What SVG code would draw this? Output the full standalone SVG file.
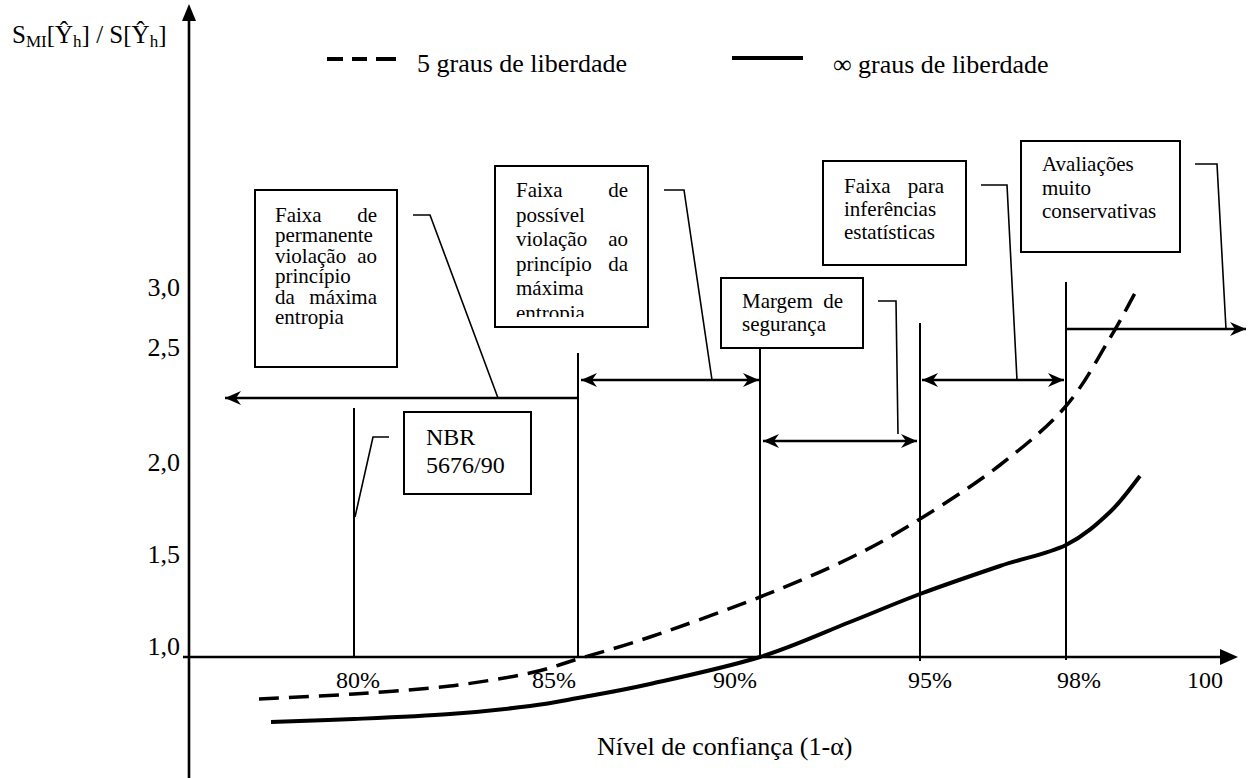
<svg xmlns="http://www.w3.org/2000/svg" width="1248" height="778" viewBox="0 0 1248 778" font-family="'Liberation Serif', 'Times New Roman', serif">
<style>
text{font-family:"Liberation Serif","Times New Roman",serif;fill:#000}
.bx{font-size:21px}
.ax{font-size:26px}
.pc{font-size:24px}
.box{fill:#fff;stroke:#000;stroke-width:2}
.ld{fill:none;stroke:#000;stroke-width:1.6}
.vl{fill:none;stroke:#000;stroke-width:2}
.ar{fill:none;stroke:#000;stroke-width:2.5}
.axis{fill:none;stroke:#000;stroke-width:2.6}
</style>
<defs>
<marker id="ah" viewBox="-17 -9 18 18" refX="0" refY="0" markerWidth="18" markerHeight="18" markerUnits="userSpaceOnUse" orient="auto-start-reverse">
<path d="M0,0 L-16,-7 L-11,0 L-16,7 Z" fill="#000"/>
</marker>
<clipPath id="clip2"><rect x="495" y="166" width="153" height="151"/></clipPath>
</defs>
<rect width="1248" height="778" fill="#fff"/>

<g id="axes">
<line class="axis" x1="189" y1="778" x2="189" y2="16"/>
<polygon points="189,4 182,21 196,21" fill="#000"/>
<line class="axis" x1="183" y1="657" x2="1224" y2="657"/>
<polygon points="1238,657 1220,649 1220,665" fill="#000"/>
</g>

<g id="axis-labels">
<text x="12" y="43" style="font-size:25px">S<tspan style="font-size:17px" dy="4">MI</tspan><tspan dy="-4">[Ŷ</tspan><tspan style="font-size:17px" dy="4">h</tspan><tspan dy="-4">] / S[Ŷ</tspan><tspan style="font-size:17px" dy="4">h</tspan><tspan dy="-4">]</tspan></text>
<text class="ax" x="180" y="296" text-anchor="end">3,0</text>
<text class="ax" x="180" y="356" text-anchor="end">2,5</text>
<text class="ax" x="180" y="471" text-anchor="end">2,0</text>
<text class="ax" x="180" y="563" text-anchor="end">1,5</text>
<text class="ax" x="180" y="655" text-anchor="end">1,0</text>
<text class="pc" x="336" y="688">80%</text>
<text class="pc" x="532" y="688">85%</text>
<text class="pc" x="713" y="688">90%</text>
<text class="pc" x="908" y="688">95%</text>
<text class="pc" x="1057" y="688">98%</text>
<text class="pc" x="1187" y="688">100</text>
<text class="ax" x="597" y="755">Nível de confiança (1-α)</text>
</g>

<g id="legend">
<line x1="327" y1="59" x2="343" y2="59" stroke="#000" stroke-width="4"/>
<line x1="352" y1="59" x2="367" y2="59" stroke="#000" stroke-width="4"/>
<line x1="376" y1="59" x2="396" y2="59" stroke="#000" stroke-width="4"/>
<text class="ax" x="417" y="72">5 graus de liberdade</text>
<line x1="732" y1="58" x2="803" y2="58" stroke="#000" stroke-width="4"/>
<text class="ax" x="833" y="73">∞ graus de liberdade</text>
</g>

<g id="curves">
<path id="curve-5gl" fill="none" stroke="#000" stroke-width="3.5" stroke-dasharray="20 10" d="M259,699 C274.8,698.2 322.2,696.2 354,694 C385.8,691.8 420.7,689.5 450,686 C479.3,682.5 508.7,677.5 530,673 C551.3,668.5 558,665 578,659 C598,653 619.7,647.3 650,637 C680.3,626.7 726.7,610.2 760,597 C793.3,583.8 823.3,571 850,558 C876.7,545 895,534.5 920,519 C945,503.5 975.7,483.8 1000,465 C1024.3,446.2 1047.7,427.2 1066,406 C1084.3,384.8 1098.5,356.8 1110,338 C1121.5,319.2 1130.8,300.5 1135,293"/>
<path id="curve-inf" fill="none" stroke="#000" stroke-width="4" d="M271,722 C284.8,721.5 324.2,720.3 354,719 C383.8,717.7 420.7,716.2 450,714 C479.3,711.8 508.7,708.7 530,706 C551.3,703.3 558,701.7 578,698 C598,694.3 619.7,690.8 650,684 C680.3,677.2 726.7,667.3 760,657 C793.3,646.7 823.3,632.5 850,622 C876.7,611.5 895,603.3 920,594 C945,584.7 975.7,574.2 1000,566 C1024.3,557.8 1047.7,554 1066,545 C1084.3,536 1097.7,523.5 1110,512 C1122.3,500.5 1135,482 1140,476"/>
</g>

<g id="connectors">
<line class="vl" x1="354" y1="408" x2="354" y2="657"/>
<line class="vl" x1="578" y1="353" x2="578" y2="657"/>
<line class="vl" x1="760" y1="348" x2="760" y2="657"/>
<line class="vl" x1="920" y1="323" x2="920" y2="661"/>
<line class="vl" x1="1066" y1="282" x2="1066" y2="660"/>
<line class="ar" x1="578" y1="398" x2="225" y2="398" marker-end="url(#ah)"/>
<line class="ar" x1="581" y1="380" x2="759" y2="380" marker-start="url(#ah)" marker-end="url(#ah)"/>
<line class="ar" x1="763" y1="441" x2="917" y2="441" marker-start="url(#ah)" marker-end="url(#ah)"/>
<line class="ar" x1="922" y1="380" x2="1064" y2="380" marker-start="url(#ah)" marker-end="url(#ah)"/>
<line class="ar" x1="1066" y1="329" x2="1246" y2="329" marker-end="url(#ah)"/>
<polyline class="ld" points="413,215 430,215 498,398"/>
<polyline class="ld" points="664,190 684,190 712,380"/>
<polyline class="ld" points="878,301 896,301 898,434"/>
<polyline class="ld" points="981,185 1007,185 1017,380"/>
<polyline class="ld" points="1195,164 1217,164 1226,329"/>
<polyline class="ld" points="389,437 373,437 355,517"/>
</g>

<g id="box-permanente">
<rect class="box" x="255" y="190" width="142" height="177"/>
<text class="bx" x="275" y="222">Faixa</text><text class="bx" x="377" y="222" text-anchor="end">de</text>
<text class="bx" x="275" y="242.4">permanente</text>
<text class="bx" x="275" y="262.8">violação</text><text class="bx" x="377" y="262.8" text-anchor="end">ao</text>
<text class="bx" x="275" y="283.2">princípio</text>
<text class="bx" x="275" y="303.6">da</text><text class="bx" x="377" y="303.6" text-anchor="end">máxima</text>
<text class="bx" x="275" y="324">entropia</text>
</g>

<g id="box-possivel">
<rect class="box" x="495" y="166" width="153" height="161"/>
<g clip-path="url(#clip2)">
<text class="bx" x="516" y="197">Faixa</text><text class="bx" x="628" y="197" text-anchor="end">de</text>
<text class="bx" x="516" y="221.5">possível</text>
<text class="bx" x="516" y="246">violação</text><text class="bx" x="628" y="246" text-anchor="end">ao</text>
<text class="bx" x="516" y="270.5">princípio</text><text class="bx" x="628" y="270.5" text-anchor="end">da</text>
<text class="bx" x="516" y="295">máxima</text>
<text class="bx" x="516" y="320">entropia</text>
</g>
</g>

<g id="box-margem">
<rect class="box" x="721" y="278" width="142" height="70"/>
<text class="bx" x="742" y="308">Margem</text><text class="bx" x="843" y="308" text-anchor="end">de</text>
<text class="bx" x="742" y="331">segurança</text>
</g>

<g id="box-inferencias">
<rect class="box" x="823" y="161" width="143" height="104"/>
<text class="bx" x="844" y="193">Faixa</text><text class="bx" x="944" y="193" text-anchor="end">para</text>
<text class="bx" x="844" y="216">inferências</text>
<text class="bx" x="844" y="239">estatísticas</text>
</g>

<g id="box-avaliacoes">
<rect class="box" x="1021" y="141" width="159" height="111"/>
<text class="bx" x="1042" y="171">Avaliações</text>
<text class="bx" x="1042" y="195">muito</text>
<text class="bx" x="1042" y="218">conservativas</text>
</g>

<g id="box-nbr">
<rect class="box" x="404" y="412" width="127" height="82"/>
<text x="426" y="445" style="font-size:24px">NBR</text>
<text x="426" y="473" style="font-size:24px">5676/90</text>
</g>
</svg>
